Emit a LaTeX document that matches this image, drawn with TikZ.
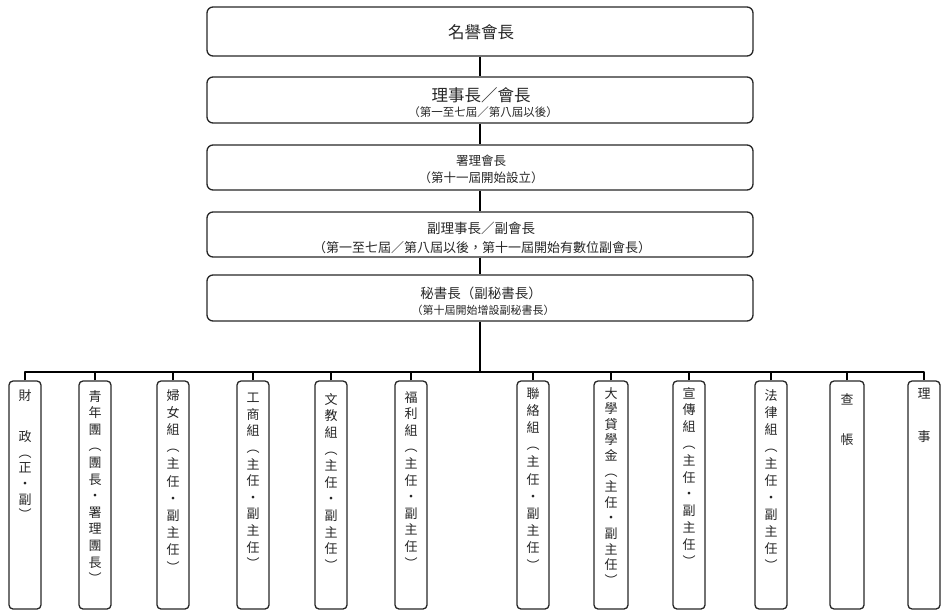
\documentclass[tikz,border=0pt]{standalone}
\usepackage{fontspec}
\newfontfamily\cjk{Noto Sans CJK TC}
\begin{document}
\begin{tikzpicture}[x=1pt,y=-1pt,
  topbox/.style={draw=black!85, line width=1.3pt, rounded corners=6pt, inner sep=0pt, minimum width=546pt},
  colbox/.style={draw=black!85, line width=1.3pt, rounded corners=4pt, inner sep=0pt, minimum width=32pt, minimum height=228pt},
  link/.style={draw=black, line width=2.6pt},
  txt/.style={inner sep=0pt, text=black!85},
  vtxt/.style={inner sep=0pt, text=black!85, anchor=north, align=center}]
\useasboundingbox (0,0) rectangle (948,613);

% top boxes
\node[topbox, minimum height=49pt] (b1) at (480,31.5) {};
\node[topbox, minimum height=46pt] (b2) at (480,100) {};
\node[topbox, minimum height=45pt] (b3) at (480,167.5) {};
\node[topbox, minimum height=45pt] (b4) at (480,234.5) {};
\node[topbox, minimum height=46pt] (b5) at (480,298) {};

\node[txt, font=\cjk\fontsize{16.5}{18}\selectfont] (t1) at (481,32) {名譽會長};
\node[txt, font=\cjk\fontsize{16.5}{18}\selectfont] (t2a) at (481,95) {理事長／會長};
\node[txt, font=\cjk\fontsize{11.5}{13}\selectfont] (t2b) at (483,112) {（第一至七屆／第八屆以後）};
\node[txt, font=\cjk\fontsize{12.5}{14}\selectfont] (t3a) at (481,161) {署理會長};
\node[txt, font=\cjk\fontsize{12.5}{14}\selectfont] (t3b) at (481,178) {（第十一屆開始設立）};
\node[txt, font=\cjk\fontsize{13.5}{15}\selectfont] (t4a) at (481,228) {副理事長／副會長};
\node[txt, font=\cjk\fontsize{13}{15}\selectfont] (t4b) at (482,248) {（第一至七屆／第八屆以後，第十一屆開始有數位副會長）};
\node[txt, font=\cjk\fontsize{13.5}{15}\selectfont] (t5a) at (481,293) {秘書長（副秘書長）};
\node[txt, font=\cjk\fontsize{11}{13}\selectfont] (t5b) at (483,310) {（第十屆開始增設副秘書長）};

% column boxes
\node[colbox] (c1) at (25,495) {};
\node[colbox] (c2) at (95,495) {};
\node[colbox] (c3) at (173,495) {};
\node[colbox] (c4) at (253,495) {};
\node[colbox] (c5) at (331,495) {};
\node[colbox] (c6) at (411,495) {};
\node[colbox] (c7) at (533,495) {};
\node[colbox, minimum width=34pt] (c8) at (611,495) {};
\node[colbox] (c9) at (689,495) {};
\node[colbox] (c10) at (771,495) {};
\node[colbox, minimum width=34pt] (c11) at (847,495) {};
\node[colbox] (c12) at (924,495) {};

% column texts
\node[vtxt, font=\cjk\fontsize{13}{15.6}\selectfont] (v1) at (c1 |- 0,389) {財\\[26pt]政\\︵\\正\\・\\副\\︶};
\node[vtxt, font=\cjk\fontsize{13}{16.6}\selectfont] (v2) at (c2 |- 0,390) {青\\年\\團\\︵\\團\\長\\・\\署\\理\\團\\長\\︶};
\node[vtxt, font=\cjk\fontsize{13}{17.2}\selectfont] (v3) at (c3 |- 0,389) {婦\\女\\組\\︵\\主\\任\\・\\副\\主\\任\\︶};
\node[vtxt, font=\cjk\fontsize{13}{16.6}\selectfont] (v4) at (c4 |- 0,393) {工\\商\\組\\︵\\主\\任\\・\\副\\主\\任\\︶};
\node[vtxt, font=\cjk\fontsize{13}{16.6}\selectfont] (v5) at (c5 |- 0,393) {文\\教\\組\\︵\\主\\任\\・\\副\\主\\任\\︶};
\node[vtxt, font=\cjk\fontsize{13}{16.6}\selectfont] (v6) at (c6 |- 0,391) {福\\利\\組\\︵\\主\\任\\・\\副\\主\\任\\︶};
\node[vtxt, font=\cjk\fontsize{13}{17.2}\selectfont] (v7) at (c7 |- 0,387) {聯\\絡\\組\\︵\\主\\任\\・\\副\\主\\任\\︶};
\node[vtxt, font=\cjk\fontsize{13}{15.6}\selectfont] (v8) at (c8 |- 0,387) {大\\學\\貸\\學\\金\\︵\\主\\任\\・\\副\\主\\任\\︶};
\node[vtxt, font=\cjk\fontsize{13}{16.8}\selectfont] (v9) at (c9 |- 0,387) {宣\\傳\\組\\︵\\主\\任\\・\\副\\主\\任\\︶};
\node[vtxt, font=\cjk\fontsize{13}{17}\selectfont] (v10) at (c10 |- 0,389) {法\\律\\組\\︵\\主\\任\\・\\副\\主\\任\\︶};
\node[vtxt, font=\cjk\fontsize{13}{40}\selectfont] (v11) at (c11 |- 0,393) {查\\帳};
\node[vtxt, font=\cjk\fontsize{13}{43}\selectfont] (v12) at (c12 |- 0,388) {理\\事};

% connectors
\coordinate (j) at (480,372);
\draw[link] (b1) -- (b2);
\draw[link] (b2) -- (b3);
\draw[link] (b3) -- (b4);
\draw[link] (b4) -- (b5);
\draw[link] (b5) -- (j);
\draw[link, line join=round] (c1.north) -- (c1.north |- j) -- (c12.north |- j) -- (c12.north);
\foreach \i in {2,...,11} {
  \draw[link] (c\i.north) -- (c\i.north |- j);
}
\end{tikzpicture}
\end{document}
